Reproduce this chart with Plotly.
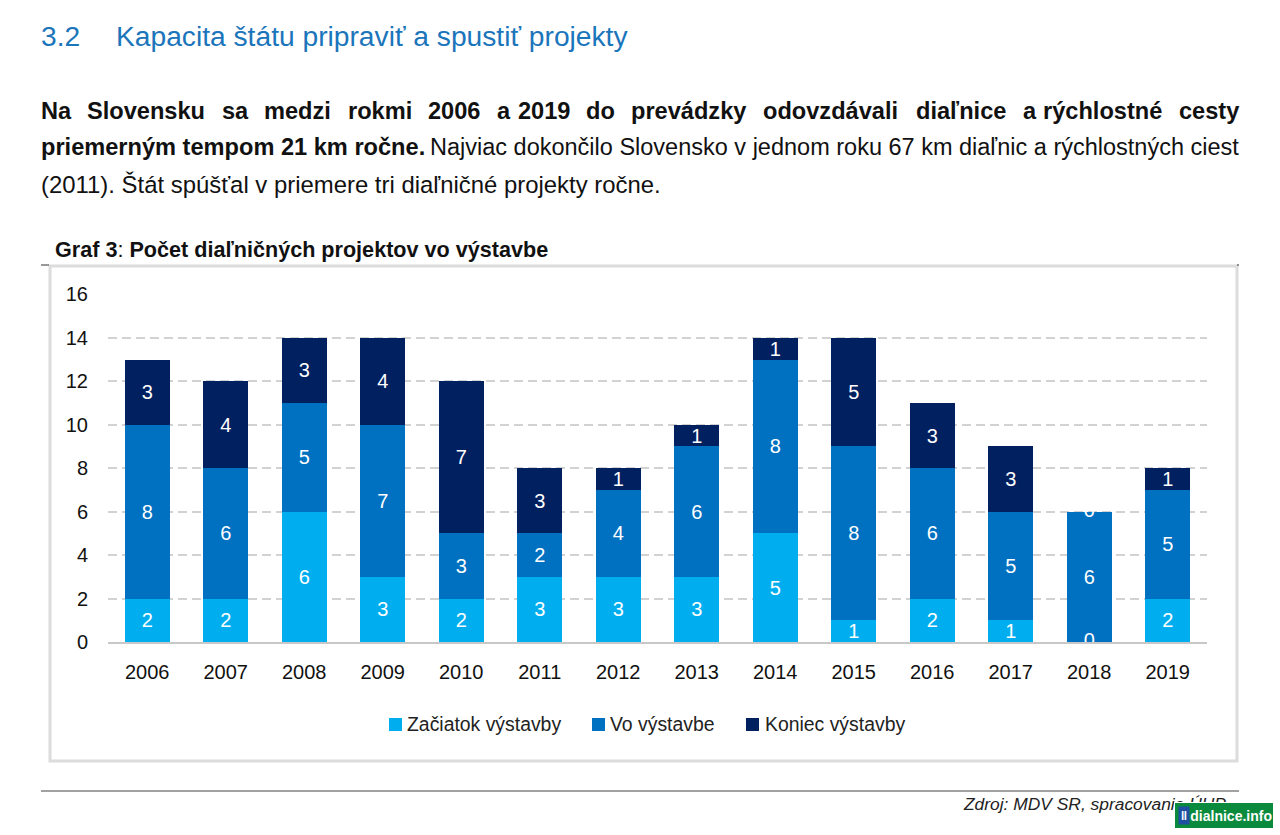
import plotly.graph_objects as go

years = ["2006","2007","2008","2009","2010","2011","2012","2013","2014","2015","2016","2017","2018","2019"]
zaciatok = [2,2,6,3,2,3,3,3,5,1,2,1,0,2]
vo_vystavbe = [8,6,5,7,3,2,4,6,8,8,6,5,6,5]
koniec = [3,4,3,4,7,3,1,1,1,5,3,3,0,1]
series_names = ["Začiatok výstavby","Vo výstavbe","Koniec výstavby"]
series_colors = ["#00aeef","#0070c0","#002060"]
y_ticks = [0,2,4,6,8,10,12,14,16]

W, H = 1280, 835
FONT = "Liberation Sans"
def px(x): return x / W
def py(y): return 1 - y / H

fig = go.Figure()
series = [zaciatok, vo_vystavbe, koniec]
for name, vals, col in zip(series_names, series, series_colors):
    fig.add_trace(go.Bar(
        x=years, y=vals, name=name, marker=dict(color=col, line=dict(width=0)),
        text=[str(v) if v else "" for v in vals], textposition="inside",
        insidetextanchor="middle", textangle=0, constraintext="none",
        textfont=dict(family=FONT, size=20, color="white"), hoverinfo="skip", showlegend=False))

# Zero labels: white text that only shows where it overlaps a bar
zx, zy = [], []
for i, y in enumerate(years):
    cum = 0
    for vals in series:
        if vals[i] == 0:
            zx.append(y); zy.append(cum)
        cum += vals[i]
fig.add_trace(go.Scatter(x=zx, y=zy, mode="text", text=["0"]*len(zx), textposition="middle center",
                         textfont=dict(family=FONT, size=20, color="white"),
                         showlegend=False, hoverinfo="skip", cliponaxis=False))

def txt(x, y, s, size=24, color="#111111", bold=False, italic=False, anchor="left"):
    x = x - 2 if anchor == "left" else x + 2
    fig.add_annotation(xref="paper", yref="paper", x=px(x), y=py(y), text=f"<b>{s}</b>" if bold else (f"<i>{s}</i>" if italic else s),
                       showarrow=False, xanchor=anchor, yanchor="middle", align="left",
                       font=dict(family=FONT, size=size, color=color))

txt(41, 36, "3.2", size=28.2, color="#1b75bb")
txt(116, 36, "Kapacita štátu pripraviť a spustiť projekty", size=28.2, color="#1b75bb")

line1 = [("Na",41),("Slovensku",87),("sa",222),("medzi",264),("rokmi",348),("2006",428),("a",497),("2019",518),
         ("do",586),("prevádzky",631),("odovzdávali",763),("diaľnice",916),("a",1023),("rýchlostné",1043),("cesty",1179)]
for w, x in line1:
    txt(x, 111, w, size=23.6, bold=True)
txt(41, 147, "priemerným tempom 21 km ročne.", size=23.6, bold=True)
txt(1239, 147, "Najviac dokončilo Slovensko v jednom roku 67 km diaľnic a rýchlostných ciest", size=23.5, anchor="right")
txt(41, 184, "(2011). Štát spúšťal v priemere tri diaľničné projekty ročne.", size=23.9)
fig.add_annotation(xref="paper", yref="paper", x=px(53), y=py(249), showarrow=False, xanchor="left", yanchor="middle",
                   text="<b>Graf 3</b>: <b>Počet diaľničných projektov vo výstavbe</b>", font=dict(family=FONT, size=21.6, color="#111111"))
txt(1226, 804, "Zdroj: MDV SR, spracovanie ÚHP", size=17.4, italic=True, anchor="right", color="#222222")

def rect(x0, y0, x1, y1, **kw):
    fig.add_shape(type="rect", xref="paper", yref="paper", x0=px(x0), x1=px(x1), y0=py(y0), y1=py(y1), **kw)
def hline(x0, x1, y, color="#333333", width=1):
    fig.add_shape(type="line", xref="paper", yref="paper", x0=px(x0), x1=px(x1), y0=py(y), y1=py(y), line=dict(color=color, width=width))

rect(50, 266, 1237, 761, line=dict(color="#dcdcdc", width=3), fillcolor="rgba(0,0,0,0)", layer="below")
hline(41, 49, 265, color="#333333")
hline(1237, 1239, 265, color="#333333")
hline(41, 1239, 791, color="#444444")

# key
for name, col, sx, tx in zip(series_names, series_colors, (389, 592, 746), (407, 610, 765)):
    rect(sx, 718, sx + 13, 731, line=dict(width=0), fillcolor=col)
    txt(tx, 724, name, size=19.4, color="#222222")

# watermark badge: annotations with a fill, so it covers the end of the source line
fig.add_annotation(xref="paper", yref="paper", x=px(1224), y=py(815.5), text="<b>dialnice.info</b>", showarrow=False,
                   xanchor="center", yanchor="middle", width=96, height=23, align="right", valign="middle",
                   bgcolor="#0a8a3c", bordercolor="#ffffff", borderwidth=1, borderpad=1,
                   font=dict(family=FONT, size=14, color="white"))
fig.add_annotation(xref="paper", yref="paper", x=px(1184), y=py(815.5), text="<b>ǁ</b>", showarrow=False,
                   xanchor="center", yanchor="middle", width=10, height=17, borderpad=0,
                   bgcolor="#1f4fa0", font=dict(family=FONT, size=13, color="white"))

fig.update_layout(
    width=W, height=H, margin=dict(l=0, r=0, t=0, b=0, autoexpand=False), autosize=False,
    paper_bgcolor="white", plot_bgcolor="white", barmode="stack", bargap=0.43,
    showlegend=False,
    xaxis=dict(domain=[px(108), px(1207)], type="category", tickfont=dict(family=FONT, size=20, color="#111111"),
               showgrid=False, showline=True, linecolor="#c8c8c8", linewidth=2, ticks="", ticklabelstandoff=11, zeroline=False),
    yaxis=dict(domain=[py(642), py(294)], range=[0,16.02], tickvals=y_ticks, tickfont=dict(family=FONT, size=20, color="#111111"),
               showgrid=True, gridcolor="#d2d2d2", griddash="9px,5px", gridwidth=2, zeroline=False, showline=False, ticks="", ticklabelstandoff=19),
)
fig.write_html("out.html", config={"displayModeBar": False}, post_script="document.body.style.margin='0';document.body.style.overflow='hidden';")
